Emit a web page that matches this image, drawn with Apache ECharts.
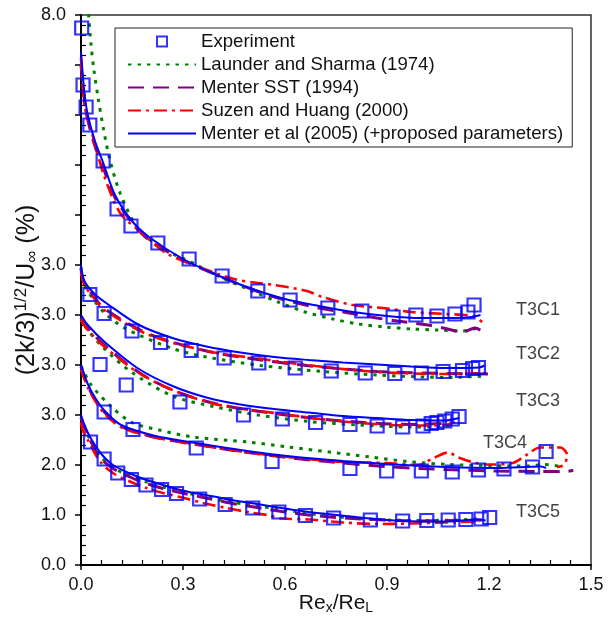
<!DOCTYPE html>
<html><head><meta charset="utf-8">
<script src="https://cdn.jsdelivr.net/npm/echarts@6/dist/echarts.min.js"></script>
<style>html,body{margin:0;padding:0;background:#fff}#c{width:608px;height:624px}</style>
</head><body><div id="c"></div><script>
// ---- tick labels ----
const yTickLabels = ['0.0','1.0','2.0','3.0','3.0','3.0','3.0','','','','','8.0'];
const caseNames = ['T3C1','T3C2','T3C3','T3C4','T3C5'];
const caseLabelPos = [[1.344,5.1],[1.344,4.22],[1.344,3.28],[1.247,2.44],[1.344,1.06]];
const legendNames = ['Experiment','Launder and Sharma (1974)','Menter SST (1994)','Suzen and Huang (2000)','Menter et al (2005) (+proposed parameters)'];

// ---- Experiment ----
const expT3C1 = [[0.002,10.74],[0.006,9.60],[0.015,9.16],[0.026,8.80],[0.065,8.08],[0.106,7.12],[0.147,6.78],[0.226,6.44],[0.318,6.12],[0.415,5.78],[0.520,5.48],[0.615,5.30],[0.726,5.14],[0.826,5.08],[0.918,4.96],[0.985,5.00],[1.047,4.98],[1.100,5.02],[1.138,5.06],[1.156,5.20]];
const expT3C2 = [[0.026,5.41],[0.068,5.03],[0.150,4.68],[0.234,4.45],[0.324,4.29],[0.421,4.14],[0.523,4.04],[0.630,3.94],[0.736,3.88],[0.836,3.84],[0.923,3.83],[1.001,3.84],[1.065,3.87],[1.122,3.89],[1.152,3.93],[1.169,3.95]];
const expT3C3 = [[0.056,4.01],[0.133,3.60],[0.291,3.26],[0.478,3.00],[0.592,2.92],[0.690,2.85],[0.791,2.81],[0.871,2.78],[0.946,2.76],[1.006,2.78],[1.030,2.83],[1.047,2.85],[1.070,2.88],[1.092,2.92],[1.112,2.97]];
const expT3C4 = [[0.068,3.06],[0.153,2.71],[0.339,2.34],[0.562,2.07],[0.791,1.93],[0.899,1.88],[1.001,1.88],[1.092,1.86],[1.169,1.90],[1.244,1.92],[1.328,1.96],[1.368,2.27]];
const expT3C5 = [[0.028,2.46],[0.068,2.12],[0.108,1.84],[0.148,1.71],[0.191,1.60],[0.237,1.51],[0.281,1.43],[0.349,1.32],[0.424,1.21],[0.505,1.14],[0.582,1.06],[0.660,0.99],[0.743,0.94],[0.851,0.90],[0.946,0.88],[1.017,0.89],[1.080,0.90],[1.132,0.91],[1.177,0.92],[1.202,0.95]];

// ---- Launder and Sharma (1974) ----
const lsT3C1 = [[0.018,11.4],[0.029,10.44],[0.038,9.90],[0.050,9.36],[0.065,8.76],[0.085,8.10],[0.115,7.44],[0.165,6.76],[0.232,6.36],[0.329,6.04],[0.409,5.76],[0.497,5.50],[0.580,5.26],[0.659,5.06],[0.741,4.92],[0.815,4.82],[0.894,4.76],[0.974,4.72],[1.050,4.70],[1.121,4.68],[1.165,4.74]];
const lsT3C2 = [[0,5.95],[0.01,5.6],[0.04,5.28],[0.068,5.05],[0.128,4.74],[0.269,4.33],[0.369,4.16],[0.529,3.99],[0.71,3.87],[0.871,3.8],[1.072,3.75],[1.192,3.78]];
const lsT3C3 = [[0,4.95],[0.02,4.7],[0.068,4.33],[0.148,3.86],[0.269,3.38],[0.389,3.17],[0.52,3.0],[0.67,2.87],[0.82,2.8],[0.971,2.76],[1.07,2.78],[1.1,2.82]];
const lsT3C4 = [[0,3.98],[0.03,3.6],[0.09,3.16],[0.15,2.85],[0.23,2.7],[0.33,2.56],[0.49,2.46],[0.61,2.36],[0.73,2.26],[0.85,2.16],[0.96,2.07],[1.08,2.01],[1.2,1.99],[1.32,1.98],[1.36,2.01],[1.42,1.96]];
const lsT3C5 = [[0,2.95],[0.02,2.6],[0.056,2.18],[0.094,1.95],[0.144,1.78],[0.193,1.66],[0.241,1.56],[0.291,1.47],[0.36,1.37],[0.43,1.27],[0.5,1.2],[0.6,1.1],[0.7,1.0],[0.8,0.94],[0.9,0.9],[1.0,0.89],[1.1,0.9],[1.17,0.92]];

// ---- Menter SST (1994) ----
const sstT3C1 = [[0,10.0],[0.01,9.3],[0.02,8.9],[0.04,8.4],[0.065,7.95],[0.1,7.35],[0.15,6.85],[0.2,6.5],[0.3,6.1],[0.4,5.8],[0.5,5.52],[0.6,5.3],[0.7,5.14],[0.78,5.05],[0.87,4.94],[0.93,4.88],[1.02,4.8],[1.065,4.74],[1.124,4.66],[1.159,4.74],[1.179,4.68]];
const sstT3C2 = [[0,5.92],[0.01,5.65],[0.04,5.35],[0.068,5.13],[0.199,4.62],[0.369,4.28],[0.529,4.1],[0.69,3.97],[0.871,3.87],[1.072,3.83],[1.207,3.82]];
const sstT3C3 = [[0,4.95],[0.02,4.74],[0.068,4.4],[0.168,3.86],[0.269,3.5],[0.4,3.22],[0.57,3.03],[0.77,2.88],[0.971,2.81],[1.092,2.84]];
const sstT3C4 = [[0,3.97],[0.02,3.58],[0.04,3.33],[0.07,3.05],[0.118,2.77],[0.22,2.55],[0.32,2.43],[0.47,2.27],[0.62,2.14],[0.77,2.04],[0.92,1.96],[1.07,1.91],[1.22,1.88],[1.35,1.87],[1.42,1.87],[1.448,1.89]];
const sstT3C5 = [[0,2.95],[0.02,2.6],[0.056,2.15],[0.094,1.93],[0.144,1.76],[0.193,1.63],[0.241,1.53],[0.291,1.45],[0.36,1.35],[0.43,1.25],[0.5,1.17],[0.6,1.06],[0.7,0.98],[0.8,0.93],[0.9,0.9],[1.0,0.88],[1.1,0.89],[1.18,0.9]];

// ---- Suzen and Huang (2000) ----
const shT3C1 = [[0,10.15],[0.01,9.2],[0.03,8.7],[0.05,8.2],[0.065,7.84],[0.115,7.04],[0.18,6.64],[0.25,6.24],[0.35,5.95],[0.45,5.72],[0.52,5.64],[0.57,5.6],[0.665,5.48],[0.71,5.36],[0.8,5.2],[0.9,5.13],[0.97,5.06],[1.07,5.02],[1.15,4.98],[1.18,4.86]];
const shT3C2 = [[0,5.85],[0.01,5.6],[0.04,5.32],[0.068,5.1],[0.2,4.6],[0.37,4.28],[0.53,4.12],[0.69,3.98],[0.87,3.86],[1.07,3.82],[1.2,3.84]];
const shT3C3 = [[0,4.9],[0.02,4.7],[0.068,4.37],[0.168,3.85],[0.269,3.5],[0.4,3.21],[0.57,3.04],[0.77,2.87],[0.971,2.79],[1.07,2.8],[1.1,2.86]];
const shT3C4 = [[0,3.9],[0.02,3.55],[0.04,3.3],[0.07,3.02],[0.12,2.75],[0.22,2.55],[0.32,2.43],[0.47,2.27],[0.62,2.15],[0.77,2.06],[0.9,2.04],[0.99,2.0],[1.04,2.15],[1.08,2.25],[1.11,2.15],[1.16,2.04],[1.2,2.01],[1.27,2.04],[1.31,2.2],[1.35,2.35],[1.41,2.35],[1.43,2.2],[1.42,2.0],[1.4,1.96]];
const shT3C5 = [[0,2.85],[0.005,2.7],[0.02,2.5],[0.056,2.07],[0.094,1.84],[0.144,1.67],[0.193,1.54],[0.241,1.44],[0.291,1.36],[0.359,1.24],[0.428,1.14],[0.497,1.05],[0.546,1.0],[0.59,0.93],[0.67,0.91],[0.77,0.85],[0.871,0.82],[0.971,0.83],[1.072,0.85],[1.172,0.87]];

// ---- Menter et al (2005) ----
const mtT3C1 = [[0,10.27],[0.01,9.45],[0.02,9.0],[0.04,8.5],[0.065,8.05],[0.1,7.4],[0.15,6.88],[0.2,6.56],[0.3,6.12],[0.4,5.8],[0.5,5.53],[0.6,5.32],[0.7,5.18],[0.8,5.06],[0.9,4.98],[1.0,4.94],[1.1,4.94],[1.15,4.96],[1.175,5.0]];
const mtT3C2 = [[0,6.0],[0.008,5.7],[0.04,5.42],[0.078,5.22],[0.168,4.81],[0.269,4.54],[0.369,4.37],[0.469,4.25],[0.569,4.16],[0.67,4.1],[0.77,4.05],[0.87,4.01],[0.971,3.97],[1.071,3.94],[1.172,3.95],[1.187,3.99]];
const mtT3C3 = [[0,5.0],[0.02,4.8],[0.068,4.47],[0.168,3.93],[0.269,3.58],[0.369,3.35],[0.469,3.21],[0.569,3.12],[0.67,3.05],[0.77,2.98],[0.87,2.94],[0.971,2.9],[1.071,2.89],[1.112,2.94]];
const mtT3C4 = [[0,4.0],[0.02,3.62],[0.04,3.36],[0.07,3.08],[0.118,2.8],[0.219,2.58],[0.319,2.46],[0.469,2.3],[0.62,2.17],[0.771,2.08],[0.921,2.01],[1.072,1.96],[1.225,1.94],[1.353,1.97],[1.368,1.94]];
const mtT3C5 = [[0,3.0],[0.01,2.8],[0.03,2.52],[0.06,2.22],[0.094,2.0],[0.144,1.83],[0.193,1.7],[0.241,1.6],[0.291,1.5],[0.341,1.43],[0.391,1.37],[0.441,1.3],[0.5,1.24],[0.58,1.15],[0.66,1.07],[0.75,1.0],[0.85,0.93],[0.95,0.88],[1.07,0.87],[1.17,0.91],[1.19,0.89]];

const expSets = [expT3C1,expT3C2,expT3C3,expT3C4,expT3C5];
const lsSets = [lsT3C1,lsT3C2,lsT3C3,lsT3C4,lsT3C5];
const sstSets = [sstT3C1,sstT3C2,sstT3C3,sstT3C4,sstT3C5];
const shSets = [shT3C1,shT3C2,shT3C3,shT3C4,shT3C5];
const mtSets = [mtT3C1,mtT3C2,mtT3C3,mtT3C4,mtT3C5];

const FONT = '"Liberation Sans", Arial, Helvetica, sans-serif';
const models = [
  {name: legendNames[1], sets: lsSets, color: '#008000', type: [3.5, 6], width: 3},
  {name: legendNames[2], sets: sstSets, color: '#800080', type: [16, 9], width: 3},
  {name: legendNames[3], sets: shSets, color: '#ff0000', type: [13, 5, 3, 5], width: 2.6},
  {name: legendNames[4], sets: mtSets, color: '#0000ff', type: 'solid', width: 2}
];

const series = [];
models.forEach(m => {
  m.sets.forEach(d => {
    series.push({
      type: 'line', name: m.name, data: d, symbol: 'none', showSymbol: false,
      smooth: 0.3, clip: true, z: 2,
      lineStyle: {color: m.color, width: m.width, type: m.type, cap: 'butt'},
      itemStyle: {color: m.color}
    });
  });
});
expSets.forEach(d => {
  series.push({
    type: 'scatter', name: legendNames[0], data: d, symbol: 'rect', symbolSize: 13, z: 3,
    itemStyle: {color: 'rgba(255,255,255,0)', borderColor: '#0000ff', borderWidth: 2.2}
  });
});
series.push({
  type: 'scatter', name: 'caseLabels', symbolSize: 0, z: 4, silent: true,
  data: caseNames.map((n, i) => ({name: n, value: caseLabelPos[i]})),
  label: {show: true, position: 'inside', formatter: p => p.name, color: '#111', fontSize: 18, fontFamily: FONT}
});

const chart = echarts.init(document.getElementById('c'), null, {renderer: 'canvas'});
chart.setOption({
  animation: false,
  backgroundColor: '#fff',
  textStyle: {fontFamily: FONT},
  grid: {left: 81, right: 17, top: 15, bottom: 59, show: true, borderColor: '#333', borderWidth: 1.5,
    containLabel: false, outerBoundsMode: 'none'},
  legend: {
    orient: 'vertical', left: 115, top: 28,
    padding: [4, 9, 4, 12],
    itemWidth: 68, itemHeight: 10, itemGap: 4, symbolKeepAspect: true,
    borderColor: '#222', borderWidth: 1, backgroundColor: '#fff',
    textStyle: {fontSize: 18.6, color: '#111', fontFamily: FONT, lineHeight: 18.4},
    data: [
      {name: legendNames[0], icon: 'path://M0,0L10,0L10,10L0,10Z', itemStyle: {color: '#fff', borderColor: '#0000ff', borderWidth: 2}},
      {name: legendNames[1], itemStyle: {opacity: 0}},
      {name: legendNames[2], itemStyle: {opacity: 0}},
      {name: legendNames[3], itemStyle: {opacity: 0}},
      {name: legendNames[4], itemStyle: {opacity: 0}}
    ]
  },
  xAxis: {
    type: 'value', min: 0, max: 1.5, interval: 0.3,
    axisLine: {show: true, lineStyle: {color: '#000', width: 2}},
    axisTick: {show: true, inside: false, length: 5, lineStyle: {color: '#000', width: 1.5}},
    minorTick: {show: true, splitNumber: 5, length: -5, lineStyle: {color: '#000', width: 1.2}},
    splitLine: {show: false},
    axisLabel: {fontSize: 18, color: '#111', margin: 11, fontFamily: FONT, formatter: v => v.toFixed(1)},
    name: '{m|Re}{s|x}{m|/Re}{s|L}', nameLocation: 'middle', nameGap: 26, nameMoveOverlap: false,
    nameTextStyle: {
      rich: {
        m: {fontSize: 21, lineHeight: 24, color: '#111', fontFamily: FONT, verticalAlign: 'middle'},
        s: {fontSize: 14, lineHeight: 14, color: '#111', fontFamily: FONT, verticalAlign: 'bottom'}
      }
    }
  },
  yAxis: {
    type: 'value', min: 0, max: 11, interval: 1,
    axisLine: {show: true, lineStyle: {color: '#000', width: 2}},
    axisTick: {show: true, inside: false, length: 6, lineStyle: {color: '#000', width: 1.5}},
    minorTick: {show: true, splitNumber: 5, length: -5, lineStyle: {color: '#000', width: 1.2}},
    splitLine: {show: false},
    axisLabel: {fontSize: 18, color: '#111', margin: 15, fontFamily: FONT,
      formatter: v => yTickLabels[Math.round(v)] || ''},
    name: '{m|(2k/3)}{p|1/2}{m|/U}{s|∞}{m| (%)}', nameLocation: 'middle', nameGap: 40, nameRotate: 90,
    nameMoveOverlap: false,
    nameTextStyle: {
      rich: {
        m: {fontSize: 25, lineHeight: 28, color: '#111', fontFamily: FONT, verticalAlign: 'middle'},
        p: {fontSize: 17, lineHeight: 16, color: '#111', fontFamily: FONT, verticalAlign: 'top'},
        s: {fontSize: 17, lineHeight: 16, color: '#111', fontFamily: FONT, verticalAlign: 'bottom'}
      }
    }
  },
  series: series
});
</script></body></html>
